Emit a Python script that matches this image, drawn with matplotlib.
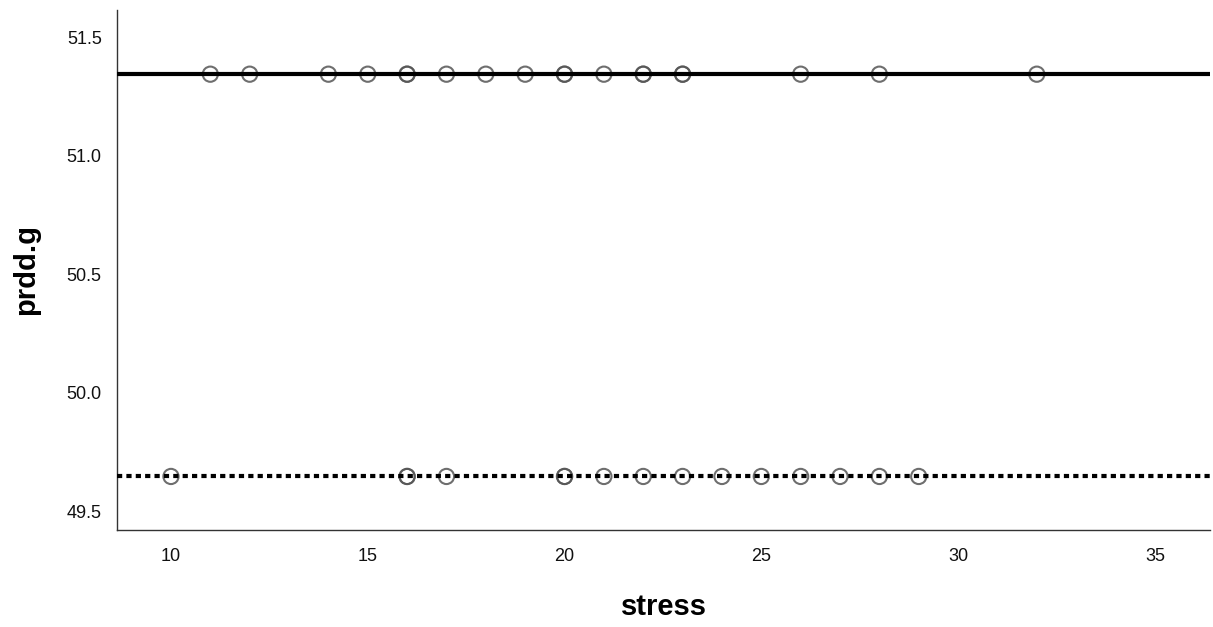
import matplotlib
matplotlib.use("Agg")
import matplotlib.pyplot as plt

plt.rcParams["font.family"] = ["Liberation Sans", "DejaVu Sans"]

# fitted level for each group and the stress values observed in it
upper_level = 51.344
lower_level = 49.646
upper_stress = [11, 12, 14, 15, 16, 16, 17, 18, 19, 20, 20, 21, 22, 22, 23, 23, 26, 28, 32]
lower_stress = [10, 16, 16, 17, 20, 20, 21, 22, 23, 24, 25, 26, 27, 28, 29]

x_ticks = [10, 15, 20, 25, 30, 35]
y_ticks = [49.5, 50.0, 50.5, 51.0, 51.5]

fig = plt.figure(figsize=(12.13, 6.27), dpi=100)
ax = fig.add_axes([0.0965, 0.1547, 0.901, 0.829])

ax.scatter(upper_stress, [upper_level] * len(upper_stress), s=120, facecolors="none",
           edgecolors="#555555", linewidths=1.5, alpha=0.85, zorder=2)
ax.scatter(lower_stress, [lower_level] * len(lower_stress), s=120, facecolors="none",
           edgecolors="#555555", linewidths=1.5, alpha=0.85, zorder=2)
ax.axhline(upper_level, color="black", lw=3.0, zorder=3)
ax.axhline(lower_level, color="black", lw=3.0, ls=(0, (1.25, 1.0)), zorder=3)

ax.set_xlim(8.63, 36.4)
ax.set_ylim(49.42, 51.614)
ax.set_xticks(x_ticks)
ax.set_yticks(y_ticks)
ax.set_yticklabels([f"{v:.1f}" for v in y_ticks])
ax.tick_params(axis="both", length=0, labelsize=13, colors="#111111")
ax.tick_params(axis="x", pad=13)
ax.tick_params(axis="y", pad=11)

for side in ("top", "right"):
    ax.spines[side].set_visible(False)
for side in ("left", "bottom"):
    ax.spines[side].set_color("#333333")
    ax.spines[side].set_linewidth(1.0)

ax.set_xlabel("stress", fontsize=21, fontweight="bold", va="center")
ax.xaxis.set_label_coords(0.5, -0.148)
ax.set_ylabel("prdd.g", fontsize=21, fontweight="bold", va="center")
ax.yaxis.set_label_coords(-0.0833, 0.502)

fig.savefig("out.png", dpi=100)
